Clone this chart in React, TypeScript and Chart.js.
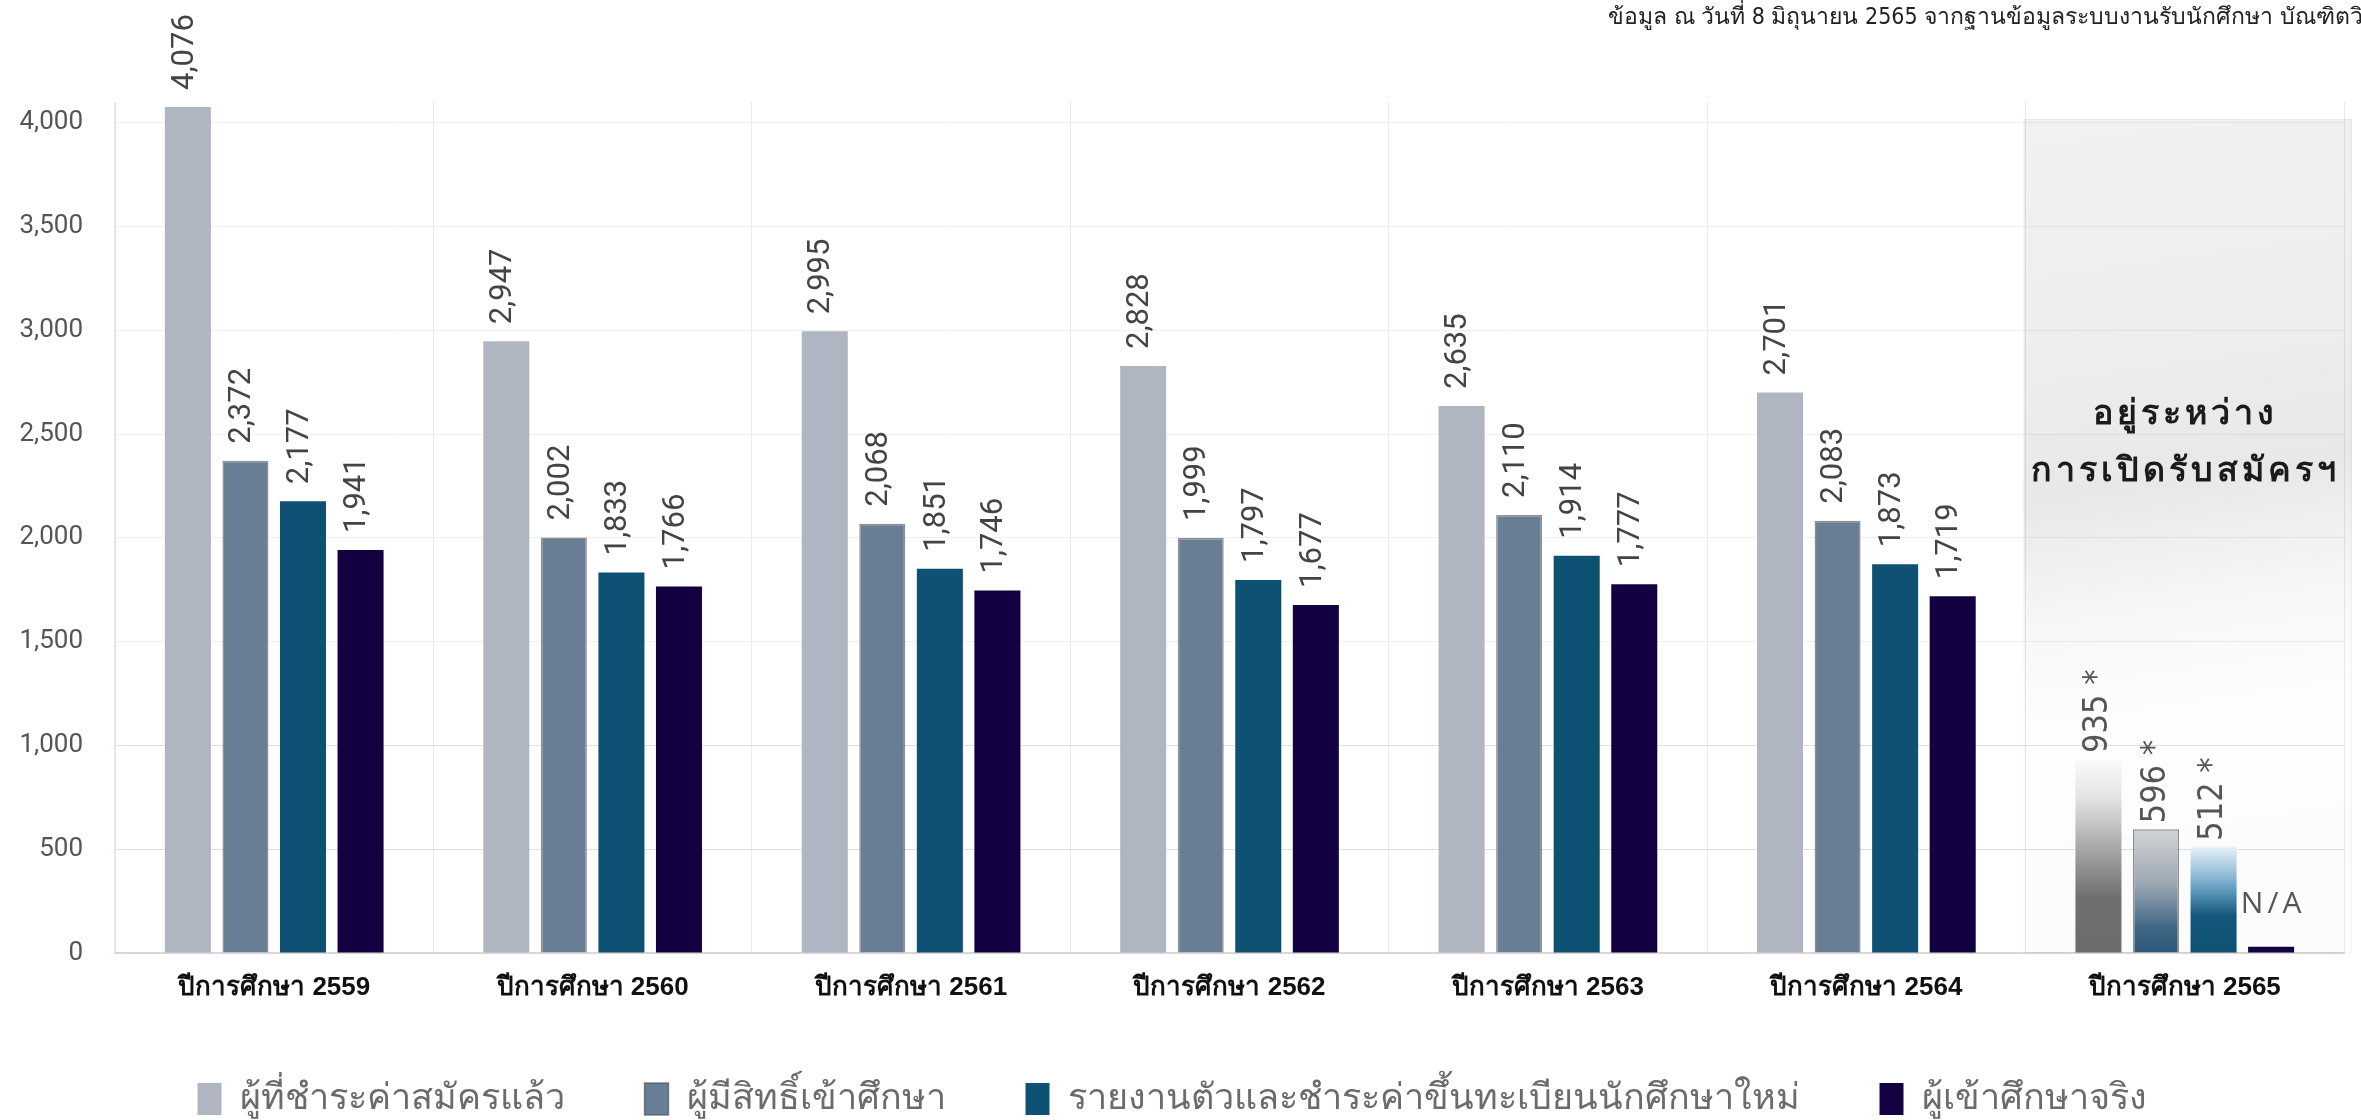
import { useEffect, useRef } from "react";
import { Chart, registerables } from "chart.js";

Chart.register(...registerables);

// ---------- data ----------
const categories = [
  "ปีการศึกษา 2559",
  "ปีการศึกษา 2560",
  "ปีการศึกษา 2561",
  "ปีการศึกษา 2562",
  "ปีการศึกษา 2563",
  "ปีการศึกษา 2564",
  "ปีการศึกษา 2565",
];
const seriesNames = [
  "ผู้ที่ชำระค่าสมัครแล้ว",
  "ผู้มีสิทธิ์เข้าศึกษา",
  "รายงานตัวและชำระค่าขึ้นทะเบียนนักศึกษาใหม่",
  "ผู้เข้าศึกษาจริง",
];
const paidApplicants = [4076, 2947, 2995, 2828, 2635, 2701, 935];
const eligible = [2372, 2002, 2068, 1999, 2110, 2083, 596];
const registered = [2177, 1833, 1851, 1797, 1914, 1873, 512];
// last value is a placeholder stub for the N/A bar
const enrolled = [1941, 1766, 1746, 1677, 1777, 1719, 30];
const enrolledNA = [false, false, false, false, false, false, true];
const yTicks = [0, 500, 1000, 1500, 2000, 2500, 3000, 3500, 4000];
const yMax = 4100;
const pendingIndex = 6;
const pendingMark = " *";
const naLabel = "N/A";
const pendingLines = ["อยู่ระหว่าง", "การเปิดรับสมัครฯ"];
const noteText =
  "ข้อมูล ณ วันที่ 8 มิถุนายน 2565 จากฐานข้อมูลระบบงานรับนักศึกษา บัณฑิตวิทยาลัย";

const seriesColors = ["#b0b6c1", "#687e94", "#0f5172", "#130041"];

const fmt = (v: number) => v.toLocaleString("en-US");

export default function App() {
  const ref = useRef<HTMLCanvasElement | null>(null);

  useEffect(() => {
    document.body.style.margin = "0";
    document.body.style.overflow = "hidden";
    const canvas = ref.current;
    if (!canvas) return;

    const gradStops: Array<Array<[number, string]>> = [
      [
        [0, "#fafbfb"],
        [0.2, "#e2e4e5"],
        [0.55, "#949292"],
        [0.72, "#716e6e"],
        [1, "#6f6c6c"],
      ],
      [
        [0, "#d4d4d4"],
        [0.45, "#9aa6b1"],
        [0.8, "#3f6684"],
        [1, "#2d5878"],
      ],
      [
        [0, "#e8f2f9"],
        [0.35, "#74aacb"],
        [0.65, "#12587b"],
        [1, "#0f5172"],
      ],
      [
        [0, "#130041"],
        [1, "#130041"],
      ],
    ];

    const makeBg = (si: number) => (c: any) => {
      if (c.dataIndex !== pendingIndex || c.type !== "data") return seriesColors[si];
      const chart = c.chart;
      const y = chart.scales && chart.scales.y;
      if (!chart.chartArea || !y) return seriesColors[si];
      const top = y.getPixelForValue(c.raw);
      const bottom = y.getPixelForValue(0);
      const g = chart.ctx.createLinearGradient(0, top, 0, bottom);
      gradStops[si].forEach(([o, col]) => g.addColorStop(o, col));
      return g;
    };

    const panelPlugin = {
      id: "panel",
      beforeDatasetsDraw(chart: any) {
        const { ctx, chartArea, scales } = chart;
        const x = scales.x;
        const half = (x.getPixelForValue(1) - x.getPixelForValue(0)) / 2;
        const left = x.getPixelForValue(pendingIndex) - half - 2;
        const right = chartArea.right + 8;
        const top = chartArea.top + 17;
        const bottom = chartArea.bottom;
        ctx.save();
        const g = ctx.createLinearGradient(left, top, left + 120, bottom);
        g.addColorStop(0, "rgba(0,0,0,0.055)");
        g.addColorStop(0.3, "rgba(0,0,0,0.07)");
        g.addColorStop(0.45, "rgba(0,0,0,0.09)");
        g.addColorStop(0.6, "rgba(0,0,0,0.03)");
        g.addColorStop(0.72, "rgba(0,0,0,0.008)");
        g.addColorStop(1, "rgba(0,0,0,0.012)");
        ctx.fillStyle = g;
        ctx.fillRect(left, top, right - left, bottom - top);
        ctx.strokeStyle = "rgba(0,0,0,0.04)";
        ctx.lineWidth = 1;
        ctx.strokeRect(left + 0.5, top + 0.5, right - left - 1, bottom - top - 1);

        // status text
        const cx = (left + right) / 2 - 2;
        ctx.fillStyle = "#1b1b1b";
        ctx.font = "bold 34px 'Noto Sans', sans-serif";
        ctx.textAlign = "center";
        ctx.textBaseline = "middle";
        (ctx as any).letterSpacing = "4px";
        ctx.fillText(pendingLines[0], cx, 414);
        ctx.fillText(pendingLines[1], cx, 471);
        ctx.restore();
      },
    };

    const labelPlugin = {
      id: "valueLabels",
      afterDatasetsDraw(chart: any) {
        const { ctx } = chart;
        ctx.save();
        chart.data.datasets.forEach((ds: any, si: number) => {
          const meta = chart.getDatasetMeta(si);
          meta.data.forEach((el: any, i: number) => {
            const v = ds.data[i];
            if (si === 3 && enrolledNA[i]) {
              ctx.save();
              ctx.font = "30px 'Open Sans', sans-serif";
              (ctx as any).letterSpacing = "4px";
              ctx.fillStyle = "#555555";
              ctx.textAlign = "center";
              ctx.textBaseline = "middle";
              ctx.fillText(naLabel, el.x + 2, el.y - 42);
              ctx.restore();
              return;
            }
            ctx.save();
            if (i === pendingIndex) {
              ctx.translate(el.x, el.y - 6);
              ctx.font = "34px 'Liberation Sans Narrow', 'DejaVu Sans Condensed', sans-serif";
              ctx.fillStyle = "#555555";
              ctx.rotate(-Math.PI / 2);
              ctx.textAlign = "left";
              ctx.textBaseline = "middle";
              ctx.fillText(fmt(v) + pendingMark, 0, 0);
            } else {
              ctx.translate(el.x - 3, el.y - 17);
              ctx.font = "31px Roboto, sans-serif";
              ctx.fillStyle = "#444444";
              ctx.rotate(-Math.PI / 2);
              ctx.textAlign = "left";
              ctx.textBaseline = "middle";
              ctx.fillText(fmt(v), 0, 0);
            }
            ctx.restore();
          });
        });
        ctx.restore();
      },
      afterDraw(chart: any) {
        const { ctx } = chart;
        ctx.save();
        ctx.font = "23px 'Liberation Sans Narrow', 'DejaVu Sans Condensed', sans-serif";
        ctx.fillStyle = "#222222";
        ctx.textAlign = "left";
        ctx.textBaseline = "middle";
        ctx.fillText(noteText, 1608, 18);
        ctx.restore();
      },
    };

    const seriesData = [paidApplicants, eligible, registered, enrolled];

    const chart = new Chart(canvas, {
      type: "bar",
      data: {
        labels: categories,
        datasets: seriesData.map((d, si) => ({
          label: seriesNames[si],
          data: d,
          backgroundColor: makeBg(si),
          borderColor: si === 1 ? "rgba(70,70,70,0.6)" : seriesColors[si],
          borderWidth: si === 1 ? 1.5 : 0,
          categoryPercentage: 0.723,
          barPercentage: 0.8,
        })),
      },
      options: {
        animation: false,
        responsive: false,
        devicePixelRatio: 1,
        layout: { padding: { top: 102, right: 17, left: 0, bottom: 0 } },
        plugins: {
          tooltip: { enabled: false },
          legend: {
            position: "bottom",
            labels: {
              boxWidth: 24,
              boxHeight: 32,
              padding: 80,
              color: "#6b6b6b",
              font: { size: 36, family: "'Liberation Sans Narrow', 'Noto Sans', sans-serif" },
            },
          },
        },
        scales: {
          x: {
            grid: { color: "#eeeaec", drawTicks: false, offset: true },
            border: { color: "#dcd5d9", width: 2 },
            ticks: {
              color: "#111111",
              padding: 19,
              font: { size: 26, weight: "bold", family: "'Liberation Sans', 'Noto Sans', sans-serif" },
            },
            afterFit(scale: any) {
              scale.height = 48;
            },
          },
          y: {
            min: 0,
            max: yMax,
            afterBuildTicks(scale: any) {
              scale.ticks = yTicks.map((v) => ({ value: v }));
            },
            afterFit(scale: any) {
              scale.width = 115;
            },
            grid: {
              drawTicks: false,
              color: (c: any) => (c.tick && c.tick.value <= 1000 ? "#e4dee1" : "#f1eef0"),
            },
            border: { color: "#e4dee1" },
            ticks: {
              color: "#555555",
              padding: 32,
              font: { size: 26, family: "Roboto, sans-serif" },
              callback: (v: any) => fmt(Number(v)),
            },
          },
        },
      },
      plugins: [panelPlugin, labelPlugin],
    } as any);

    return () => chart.destroy();
  }, []);

  return (
    <div style={{ width: 2361, height: 1120, overflow: "hidden", background: "#ffffff" }}>
      <canvas ref={ref} width={2361} height={1127} style={{ display: "block" }} />
    </div>
  );
}
